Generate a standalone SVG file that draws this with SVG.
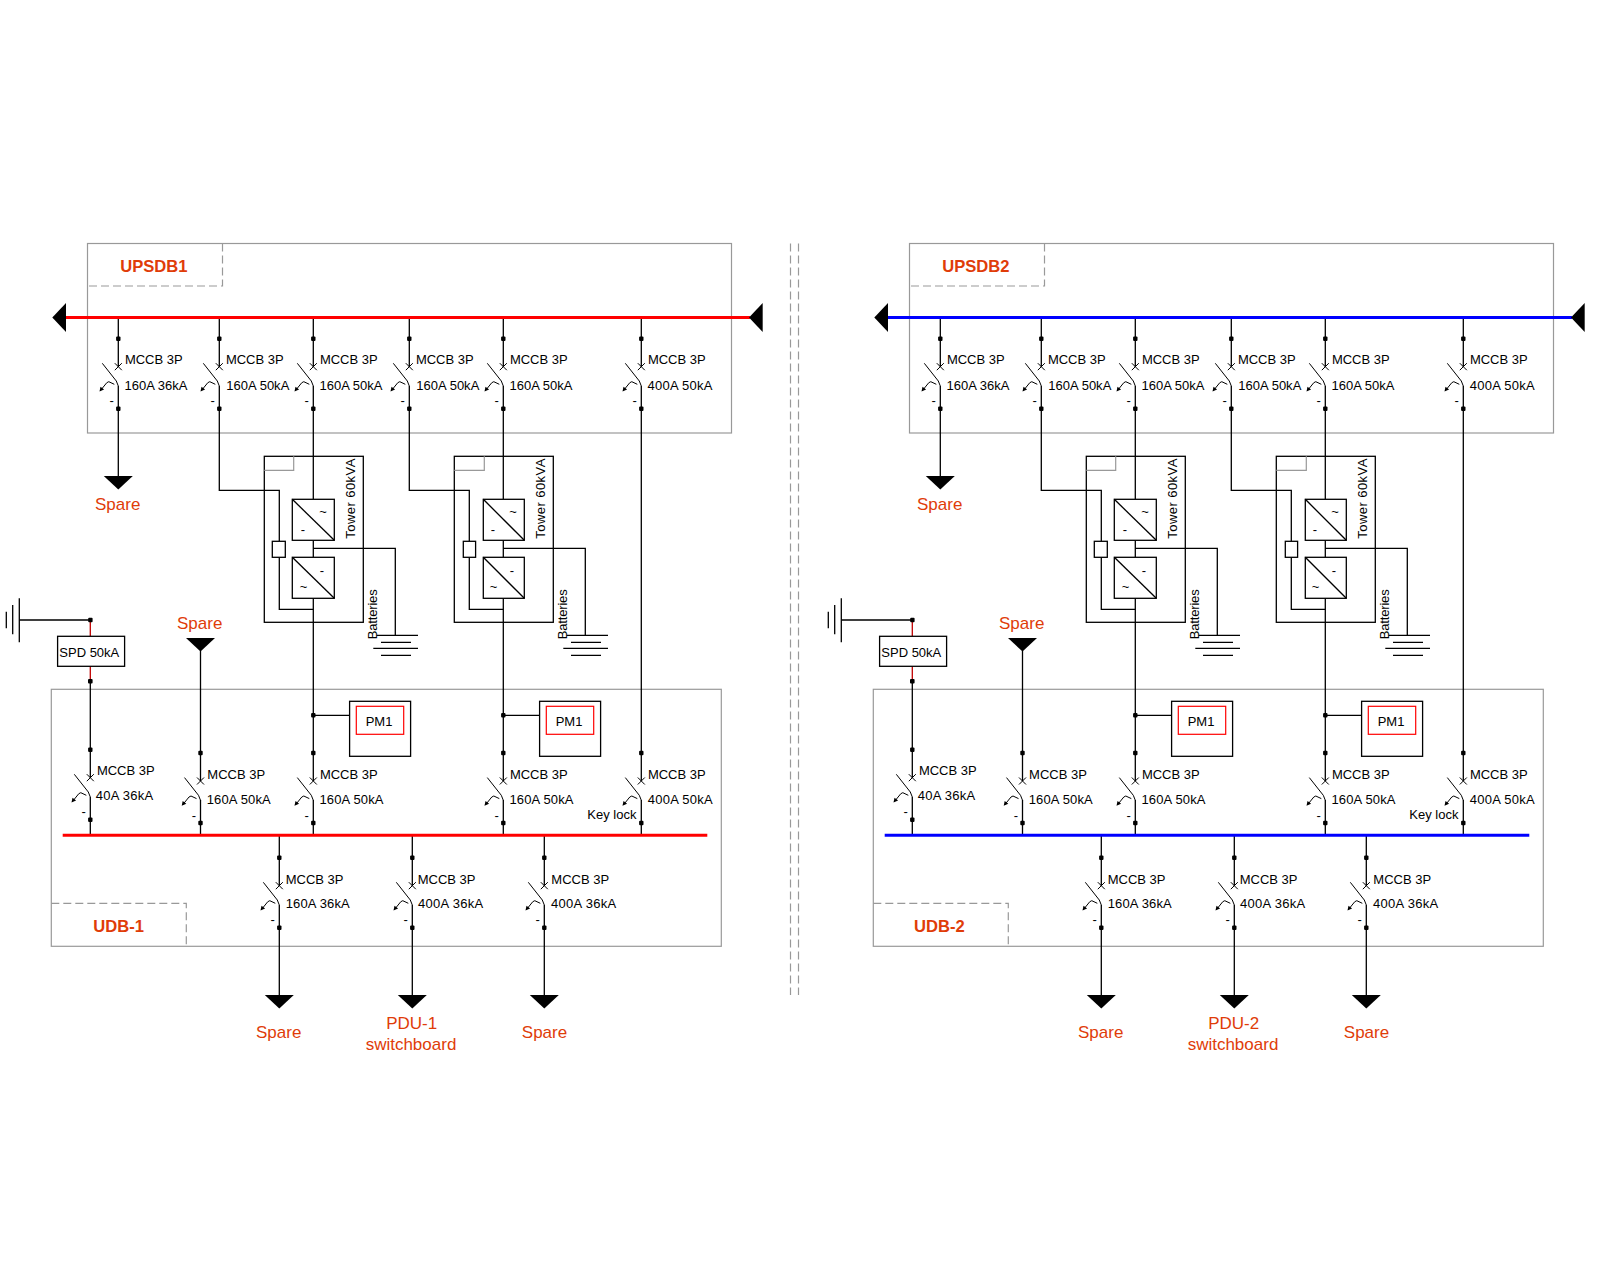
<svg xmlns="http://www.w3.org/2000/svg" width="1600" height="1280" viewBox="0 0 1600 1280">
<style>
text{font-family:"Liberation Sans",Arial,sans-serif;font-size:13px;fill:#000}
.lab{font-size:17px;fill:#e03c08}
.ttl{font-size:16.6px;font-weight:700;fill:#e03c08}
.m{text-anchor:middle}
.box{fill:none;stroke:#999;stroke-width:1.2}
.dash{fill:none;stroke:#999;stroke-width:1.2;stroke-dasharray:8 4}
.w{fill:none;stroke:#000;stroke-width:1.3}
.k{fill:#fff;stroke:#000;stroke-width:1.3}
.red{fill:none;stroke:#c00000;stroke-width:1.3}
.busr{stroke:#f00;stroke-width:3;fill:none}
.busb{stroke:#00f;stroke-width:3;fill:none}
.pm{fill:none;stroke:#f00;stroke-width:1.2}
</style>
<defs>
<g id="brk">
<path d="M-3.5-3.5L3.5 3.5M-3.5 3.5L3.5-3.5M-16-3.4L-2 14.3L0 19.3M-18 24L-11.5 16L-9.5 15L-4 17.6" fill="none" stroke="#000" stroke-width="1"/>
<path d="M-18.8 24.8L-17.8 20L-14.2 22.8Z" fill="#000"/>
<rect x="-2.2" y="-30.2" width="4.4" height="4.4" rx="1"/>
<rect x="-2.2" y="39.8" width="4.4" height="4.4" rx="1"/>
</g>
<path id="tri" d="M-14.5 0H14.5L0 13.5Z" fill="#000"/>
<path id="trih" d="M0 0L13.7-14.5V14.5Z" fill="#000"/>
</defs>

<g id="frames">
<rect class="box" x="87.5" y="243.5" width="644" height="189.5"/>
<path class="dash" d="M222.5 243.5V286H87.5"/>
<rect class="box" x="51.3" y="689.3" width="670" height="257"/>
<path class="dash" d="M51.3 903.3H186.3V946.3"/>
<rect class="box" x="909.5" y="243.5" width="644" height="189.5"/>
<path class="dash" d="M1044.5 243.5V286H909.5"/>
<rect class="box" x="873.3" y="689.3" width="670" height="257"/>
<path class="dash" d="M873.3 903.3H1008.3V946.3"/>
<path class="dash" d="M790.5 243.5V995M798.5 243.5V995"/>
</g>

<g id="connectors">
<path class="w" d="M118.3 317.5V366.7M118.3 386V476"/>
<path class="w" d="M219.3 317.5V366.7M219.3 386V490.3H279.3V541.3M279.3 557.3V609.3H313.3"/>
<path class="w" d="M313.3 317.5V366.7M313.3 386V499.3M313.3 540.3V557.3M313.3 598.3V781M313.3 800V835"/>
<path class="w" d="M409.3 317.5V366.7M409.3 386V490.3H469.3V541.3M469.3 557.3V609.3H503.3"/>
<path class="w" d="M503.3 317.5V366.7M503.3 386V499.3M503.3 540.3V557.3M503.3 598.3V781M503.3 800V835"/>
<path class="w" d="M641.3 317.5V366.7M641.3 386V780.7M641.3 800V835"/>
<path class="w" d="M313.3 548.3H395.3V635.3M503.3 548.3H585.3V635.3"/>
<path class="w" d="M313.3 715.3H349.3M503.3 715.3H539.3"/>
<path class="w" d="M90.3 620H19.3M90.3 681.3V777.7M90.3 797V835"/>
<path class="red" d="M90.3 620V636.3M90.3 666.3V681.3"/>
<path class="w" d="M200.5 651V781M200.5 800V835"/>
<path class="w" d="M279.3 835V885.7M279.3 905V995M412.3 835V885.7M412.3 905V995M544.3 835V885.7M544.3 905V995"/>

<path class="w" d="M940.3 317.5V366.7M940.3 386V476"/>
<path class="w" d="M1041.3 317.5V366.7M1041.3 386V490.3H1101.3V541.3M1101.3 557.3V609.3H1135.3"/>
<path class="w" d="M1135.3 317.5V366.7M1135.3 386V499.3M1135.3 540.3V557.3M1135.3 598.3V781M1135.3 800V835"/>
<path class="w" d="M1231.3 317.5V366.7M1231.3 386V490.3H1291.3V541.3M1291.3 557.3V609.3H1325.3"/>
<path class="w" d="M1325.3 317.5V366.7M1325.3 386V499.3M1325.3 540.3V557.3M1325.3 598.3V781M1325.3 800V835"/>
<path class="w" d="M1463.3 317.5V366.7M1463.3 386V780.7M1463.3 800V835"/>
<path class="w" d="M1135.3 548.3H1217.3V635.3M1325.3 548.3H1407.3V635.3"/>
<path class="w" d="M1135.3 715.3H1171.3M1325.3 715.3H1361.3"/>
<path class="w" d="M912.3 620H841.3M912.3 681.3V777.7M912.3 797V835"/>
<path class="red" d="M912.3 620V636.3M912.3 666.3V681.3"/>
<path class="w" d="M1022.5 651V781M1022.5 800V835"/>
<path class="w" d="M1101.3 835V885.7M1101.3 905V995M1234.3 835V885.7M1234.3 905V995M1366.3 835V885.7M1366.3 905V995"/>
<g fill="#000">
<rect x="88.2" y="617.8" width="4.4" height="4.4" rx="1"/><rect x="88" y="679" width="4.6" height="4.6" rx="1"/>
<rect x="311.1" y="713" width="4.4" height="4.4" rx="1"/><rect x="501.1" y="713" width="4.4" height="4.4" rx="1"/>
<rect x="910.2" y="617.8" width="4.4" height="4.4" rx="1"/><rect x="910" y="679" width="4.6" height="4.6" rx="1"/>
<rect x="1133.1" y="713" width="4.4" height="4.4" rx="1"/><rect x="1323.1" y="713" width="4.4" height="4.4" rx="1"/>
</g>
</g>

<g id="busbars">
<path class="busr" d="M66 317.5H750"/><use href="#trih" x="52.3" y="317.5"/><use href="#trih" x="749" y="317.5"/>
<path class="busb" d="M888 317.5H1572"/><use href="#trih" x="874.3" y="317.5"/><use href="#trih" x="1571" y="317.5"/>
<path class="busr" d="M62.7 835.3H707.3"/>
<path class="busb" d="M884.7 835.3H1529.3"/>
</g>

<g id="UPSDB1-title"><text class="ttl" x="120.2" y="272">UPSDB1</text></g>
<g id="UDB1-title"><text class="ttl" x="93.2" y="932">UDB-1</text></g>
<g id="UPSDB2-title"><text class="ttl" x="942.2" y="272">UPSDB2</text></g>
<g id="UDB2-title"><text class="ttl" x="914" y="932">UDB-2</text></g>

<g id="Q1" transform="translate(118.3 366.7)"><use href="#brk"/><text x="6.6" y="-2.4">MCCB 3P</text><text x="6.2" y="23.3">160A 36kA</text><text x="-8.8" y="38.5">-</text></g>
<g id="Q2" transform="translate(219.3 366.7)"><use href="#brk"/><text x="6.6" y="-2.4">MCCB 3P</text><text x="7" y="23.3" textLength="63">160A 50kA</text><text x="-8.8" y="38.5">-</text></g>
<g id="Q3" transform="translate(313.3 366.7)"><use href="#brk"/><text x="6.6" y="-2.4">MCCB 3P</text><text x="6.2" y="23.3" textLength="63">160A 50kA</text><text x="-8.8" y="38.5">-</text></g>
<g id="Q4" transform="translate(409.3 366.7)"><use href="#brk"/><text x="6.6" y="-2.4">MCCB 3P</text><text x="7" y="23.3" textLength="63">160A 50kA</text><text x="-8.8" y="38.5">-</text></g>
<g id="Q5" transform="translate(503.3 366.7)"><use href="#brk"/><text x="6.6" y="-2.4">MCCB 3P</text><text x="6.2" y="23.3" textLength="63">160A 50kA</text><text x="-8.8" y="38.5">-</text></g>
<g id="Q6" transform="translate(641.3 366.7)"><use href="#brk"/><text x="6.6" y="-2.4">MCCB 3P</text><text x="6.2" y="23.3" textLength="65">400A 50kA</text><text x="-8.8" y="38.5">-</text></g>

<g id="Q7" transform="translate(90.3 777.7)"><use href="#brk"/><text x="6.6" y="-2.7">MCCB 3P</text><text x="5.4" y="22.3" textLength="57.5">40A 36kA</text><text x="-8.8" y="38.5">-</text></g>
<g id="Q8" transform="translate(200.5 781)"><use href="#brk"/><text x="6.8" y="-2.3">MCCB 3P</text><text x="6.2" y="22.7" textLength="64">160A 50kA</text><text x="-8.8" y="38.5">-</text></g>
<g id="Q9" transform="translate(313.3 781)"><use href="#brk"/><text x="6.6" y="-2.3">MCCB 3P</text><text x="6.2" y="22.7" textLength="64">160A 50kA</text><text x="-8.8" y="38.5">-</text></g>
<g id="Q10" transform="translate(503.3 781)"><use href="#brk"/><text x="6.6" y="-2.3">MCCB 3P</text><text x="6.2" y="22.7" textLength="64">160A 50kA</text><text x="-8.8" y="38.5">-</text></g>
<g id="Q11" transform="translate(641.3 781)"><use href="#brk"/><text x="6.6" y="-2.3">MCCB 3P</text><text x="6.4" y="22.7" textLength="65">400A 50kA</text><text x="-54" y="37.5">Key lock</text></g>
<g id="Q12" transform="translate(279.3 885.7)"><use href="#brk"/><text x="6.4" y="-2">MCCB 3P</text><text x="6.4" y="22.2" textLength="64">160A 36kA</text><text x="-8.8" y="38.5">-</text></g>
<g id="Q13" transform="translate(412.3 885.7)"><use href="#brk"/><text x="5.4" y="-2">MCCB 3P</text><text x="5.8" y="22.2" textLength="65">400A 36kA</text><text x="-8.8" y="38.5">-</text></g>
<g id="Q14" transform="translate(544.3 885.7)"><use href="#brk"/><text x="7" y="-2">MCCB 3P</text><text x="6.8" y="22.2" textLength="65">400A 36kA</text><text x="-8.8" y="38.5">-</text></g>

<g id="Q21" transform="translate(940.3 366.7)"><use href="#brk"/><text x="6.6" y="-2.4">MCCB 3P</text><text x="6.2" y="23.3">160A 36kA</text><text x="-8.8" y="38.5">-</text></g>
<g id="Q22" transform="translate(1041.3 366.7)"><use href="#brk"/><text x="6.6" y="-2.4">MCCB 3P</text><text x="7" y="23.3" textLength="63">160A 50kA</text><text x="-8.8" y="38.5">-</text></g>
<g id="Q23" transform="translate(1135.3 366.7)"><use href="#brk"/><text x="6.6" y="-2.4">MCCB 3P</text><text x="6.2" y="23.3" textLength="63">160A 50kA</text><text x="-8.8" y="38.5">-</text></g>
<g id="Q24" transform="translate(1231.3 366.7)"><use href="#brk"/><text x="6.6" y="-2.4">MCCB 3P</text><text x="7" y="23.3" textLength="63">160A 50kA</text><text x="-8.8" y="38.5">-</text></g>
<g id="Q25" transform="translate(1325.3 366.7)"><use href="#brk"/><text x="6.6" y="-2.4">MCCB 3P</text><text x="6.2" y="23.3" textLength="63">160A 50kA</text><text x="-8.8" y="38.5">-</text></g>
<g id="Q26" transform="translate(1463.3 366.7)"><use href="#brk"/><text x="6.6" y="-2.4">MCCB 3P</text><text x="6.4" y="23.3" textLength="65">400A 50kA</text><text x="-8.8" y="38.5">-</text></g>

<g id="Q27" transform="translate(912.3 777.7)"><use href="#brk"/><text x="6.6" y="-2.7">MCCB 3P</text><text x="5.4" y="22.3" textLength="57.5">40A 36kA</text><text x="-8.8" y="38.5">-</text></g>
<g id="Q28" transform="translate(1022.5 781)"><use href="#brk"/><text x="6.6" y="-2.3">MCCB 3P</text><text x="6.2" y="22.7" textLength="64">160A 50kA</text><text x="-8.8" y="38.5">-</text></g>
<g id="Q29" transform="translate(1135.3 781)"><use href="#brk"/><text x="6.6" y="-2.3">MCCB 3P</text><text x="6.2" y="22.7" textLength="64">160A 50kA</text><text x="-8.8" y="38.5">-</text></g>
<g id="Q30" transform="translate(1325.3 781)"><use href="#brk"/><text x="6.6" y="-2.3">MCCB 3P</text><text x="6.2" y="22.7" textLength="64">160A 50kA</text><text x="-8.8" y="38.5">-</text></g>
<g id="Q31" transform="translate(1463.3 781)"><use href="#brk"/><text x="6.6" y="-2.3">MCCB 3P</text><text x="6.4" y="22.7" textLength="65">400A 50kA</text><text x="-54" y="37.5">Key lock</text></g>
<g id="Q32" transform="translate(1101.3 885.7)"><use href="#brk"/><text x="6.4" y="-2">MCCB 3P</text><text x="6.4" y="22.2" textLength="64">160A 36kA</text><text x="-8.8" y="38.5">-</text></g>
<g id="Q33" transform="translate(1234.3 885.7)"><use href="#brk"/><text x="5.4" y="-2">MCCB 3P</text><text x="5.8" y="22.2" textLength="65">400A 36kA</text><text x="-8.8" y="38.5">-</text></g>
<g id="Q34" transform="translate(1366.3 885.7)"><use href="#brk"/><text x="7" y="-2">MCCB 3P</text><text x="6.8" y="22.2" textLength="65">400A 36kA</text><text x="-8.8" y="38.5">-</text></g>

<g id="UPS1">
<rect x="264.3" y="456.3" width="99" height="166" fill="none" stroke="#000" stroke-width="1.3"/>
<path class="box" d="M264.3 470.3H293.7V456.3"/>
<rect class="k" x="292.3" y="499.3" width="42" height="41"/><path class="w" d="M292.3 499.3L334.3 540.3"/>
<rect class="k" x="292.3" y="557.3" width="42" height="41"/><path class="w" d="M292.3 557.3L334.3 598.3"/>
<rect class="k" x="272.3" y="541.3" width="13" height="16"/>
<text class="m" x="323" y="516">~</text><text class="m" x="303" y="534">-</text><text class="m" x="322" y="575">-</text><text class="m" x="303.5" y="591">~</text>
<text transform="translate(355.3 538.7) rotate(-90)" textLength="80">Tower 60kVA</text>
<text transform="translate(376.7 639.3) rotate(-90)" textLength="50">Batteries</text>
<path class="w" d="M376.7 635.3H418M381 642.3H411M373.3 648.3H418M381 655.3H411"/>
</g>
<g id="UPS2">
<rect x="454.3" y="456.3" width="99" height="166" fill="none" stroke="#000" stroke-width="1.3"/>
<path class="box" d="M454.3 470.3H484.3V456.3"/>
<rect class="k" x="483.3" y="499.3" width="41" height="41"/><path class="w" d="M483.3 499.3L524.3 540.3"/>
<rect class="k" x="483.3" y="557.3" width="41" height="41"/><path class="w" d="M483.3 557.3L524.3 598.3"/>
<rect class="k" x="463.3" y="541.3" width="12.3" height="16"/>
<text class="m" x="513" y="516">~</text><text class="m" x="493" y="534">-</text><text class="m" x="512" y="575">-</text><text class="m" x="493.5" y="591">~</text>
<text transform="translate(545.3 538.7) rotate(-90)" textLength="80">Tower 60kVA</text>
<text transform="translate(566.7 639.3) rotate(-90)" textLength="50">Batteries</text>
<path class="w" d="M566.7 635.3H608M571 642.3H601M563.3 648.3H608M571 655.3H601"/>
</g>
<g id="UPS3">
<rect x="1086.3" y="456.3" width="99" height="166" fill="none" stroke="#000" stroke-width="1.3"/>
<path class="box" d="M1086.3 470.3H1115.7V456.3"/>
<rect class="k" x="1114.3" y="499.3" width="42" height="41"/><path class="w" d="M1114.3 499.3L1156.3 540.3"/>
<rect class="k" x="1114.3" y="557.3" width="42" height="41"/><path class="w" d="M1114.3 557.3L1156.3 598.3"/>
<rect class="k" x="1094.3" y="541.3" width="13" height="16"/>
<text class="m" x="1145" y="516">~</text><text class="m" x="1125" y="534">-</text><text class="m" x="1144" y="575">-</text><text class="m" x="1125.5" y="591">~</text>
<text transform="translate(1177.3 538.7) rotate(-90)" textLength="80">Tower 60kVA</text>
<text transform="translate(1198.7 639.3) rotate(-90)" textLength="50">Batteries</text>
<path class="w" d="M1198.7 635.3H1240M1203 642.3H1233M1195.3 648.3H1240M1203 655.3H1233"/>
</g>
<g id="UPS4">
<rect x="1276.3" y="456.3" width="99" height="166" fill="none" stroke="#000" stroke-width="1.3"/>
<path class="box" d="M1276.3 470.3H1306.3V456.3"/>
<rect class="k" x="1305.3" y="499.3" width="41" height="41"/><path class="w" d="M1305.3 499.3L1346.3 540.3"/>
<rect class="k" x="1305.3" y="557.3" width="41" height="41"/><path class="w" d="M1305.3 557.3L1346.3 598.3"/>
<rect class="k" x="1285.3" y="541.3" width="12.3" height="16"/>
<text class="m" x="1335" y="516">~</text><text class="m" x="1315" y="534">-</text><text class="m" x="1334" y="575">-</text><text class="m" x="1315.5" y="591">~</text>
<text transform="translate(1367.3 538.7) rotate(-90)" textLength="80">Tower 60kVA</text>
<text transform="translate(1388.7 639.3) rotate(-90)" textLength="50">Batteries</text>
<path class="w" d="M1388.7 635.3H1430M1393 642.3H1423M1385.3 648.3H1430M1393 655.3H1423"/>
</g>

<g id="SPD1"><rect class="k" x="57.6" y="636.3" width="67" height="30"/><text x="59.3" y="656.7">SPD 50kA</text>
<path class="w" d="M19.3 598.3V642.3M12.7 605V634.3M6.3 611.7V628.3"/></g>
<g id="SPD2"><rect class="k" x="879.6" y="636.3" width="67" height="30"/><text x="881.3" y="656.7">SPD 50kA</text>
<path class="w" d="M841.3 598.3V642.3M834.7 605V634.3M828.3 611.7V628.3"/></g>

<g id="PM1a"><rect class="k" x="349.6" y="701.3" width="61" height="55"/><rect class="pm" x="356.3" y="706.3" width="47.4" height="28"/><text x="365.7" y="726">PM1</text></g>
<g id="PM1b"><rect class="k" x="539.6" y="701.3" width="61" height="55"/><rect class="pm" x="546.3" y="706.3" width="47.4" height="28"/><text x="555.7" y="726">PM1</text></g>
<g id="PM1c"><rect class="k" x="1171.6" y="701.3" width="61" height="55"/><rect class="pm" x="1178.3" y="706.3" width="47.4" height="28"/><text x="1187.7" y="726">PM1</text></g>
<g id="PM1d"><rect class="k" x="1361.6" y="701.3" width="61" height="55"/><rect class="pm" x="1368.3" y="706.3" width="47.4" height="28"/><text x="1377.7" y="726">PM1</text></g>

<g id="out1"><use href="#tri" x="118.3" y="476"/><text class="lab m" x="117.7" y="510">Spare</text></g>
<g id="out2"><use href="#tri" x="200.5" y="638"/><text class="lab m" x="199.7" y="629">Spare</text></g>
<g id="out3"><use href="#tri" x="279.3" y="995"/><text class="lab m" x="278.7" y="1037.5">Spare</text></g>
<g id="out4"><use href="#tri" x="412.3" y="995"/><text class="lab m" x="411.7" y="1029">PDU-1</text><text class="lab m" x="411" y="1049.5">switchboard</text></g>
<g id="out5"><use href="#tri" x="544.3" y="995"/><text class="lab m" x="544.5" y="1037.5">Spare</text></g>
<g id="out6"><use href="#tri" x="940.3" y="476"/><text class="lab m" x="939.7" y="510">Spare</text></g>
<g id="out7"><use href="#tri" x="1022.5" y="638"/><text class="lab m" x="1021.7" y="629">Spare</text></g>
<g id="out8"><use href="#tri" x="1101.3" y="995"/><text class="lab m" x="1100.7" y="1037.5">Spare</text></g>
<g id="out9"><use href="#tri" x="1234.3" y="995"/><text class="lab m" x="1233.7" y="1029">PDU-2</text><text class="lab m" x="1233" y="1049.5">switchboard</text></g>
<g id="out10"><use href="#tri" x="1366.3" y="995"/><text class="lab m" x="1366.5" y="1037.5">Spare</text></g>
</svg>
